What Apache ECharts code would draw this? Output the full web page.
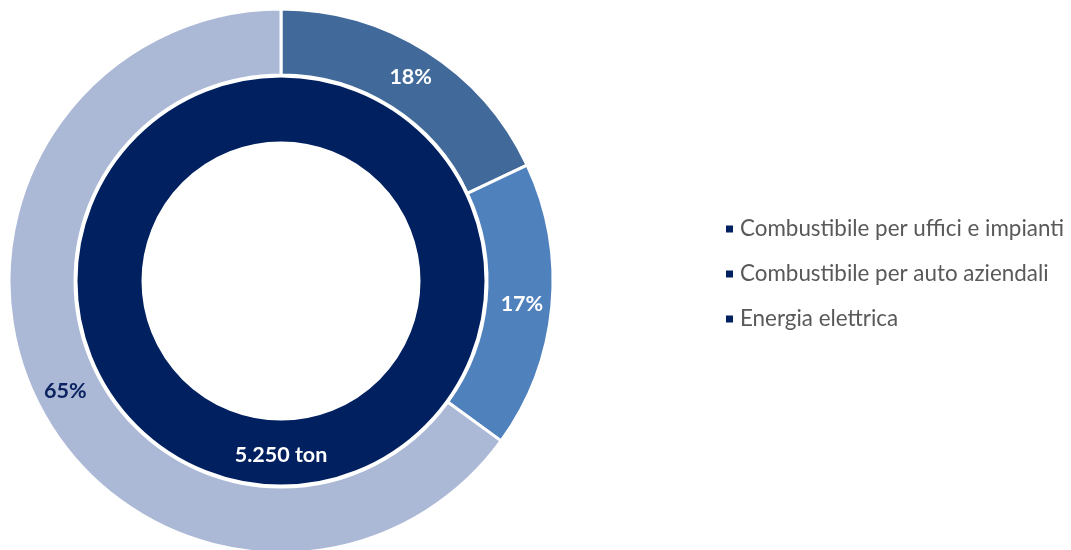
<!DOCTYPE html>
<html><head><meta charset="utf-8">
<script src="https://cdn.jsdelivr.net/npm/echarts@6/dist/echarts.min.js"></script>
<style>html,body{margin:0;padding:0;background:#fff}#c{width:1071px;height:550px}</style>
</head><body><div id="c"></div>
<script>
const categories = ['Combustibile per uffici e impianti', 'Combustibile per auto aziendali', 'Energia elettrica'];
const shares = [18, 17, 65];
const sliceColors = ['#416a9b', '#4f81bd', '#abb9d6'];
const labelColors = ['#ffffff', '#ffffff', '#0b2360'];
const totalLabel = '5.250 ton';
const totalValue = [5250];

const chart = echarts.init(document.getElementById('c'));
const font = 'Lato, "Open Sans", sans-serif';
chart.setOption({
  animation: false,
  legend: {
    orient: 'vertical',
    left: 719, top: 213,
    itemWidth: 9, itemHeight: 9, itemGap: 23,
    icon: 'rect',
    data: categories,
    itemStyle: { color: '#002060' },
    textStyle: { color: '#595959', fontSize: 22.4, lineHeight: 20, fontFamily: font, padding: [0, 0, 0, 1] }
  },
  series: [
    {
      type: 'pie', name: 'outer',
      center: [281, 281], radius: [206, 272],
      startAngle: 90, clockwise: true,
      silent: true,
      itemStyle: { borderColor: '#fff', borderWidth: 3 },
      label: { show: true, position: 'inside', fontFamily: font, fontWeight: 'bold', fontSize: 21.5,
        formatter: p => p.value + '%' },
      labelLine: { show: false },
      data: categories.map((c, i) => ({ name: c, value: shares[i],
        itemStyle: { color: sliceColors[i] }, label: { color: labelColors[i] } }))
    },
    {
      type: 'pie', name: 'inner',
      center: [281, 281], radius: [138, 205],
      startAngle: 90, silent: true,
      itemStyle: { color: '#002060', borderColor: '#fff', borderWidth: 3 },
      label: { show: true, position: 'inside', color: '#fff', fontFamily: font, fontWeight: 'bold', fontSize: 21.5,
        formatter: () => totalLabel },
      labelLine: { show: false },
      data: [{ name: 'Totale', value: totalValue[0] }]
    }
  ]
});
</script></body></html>
